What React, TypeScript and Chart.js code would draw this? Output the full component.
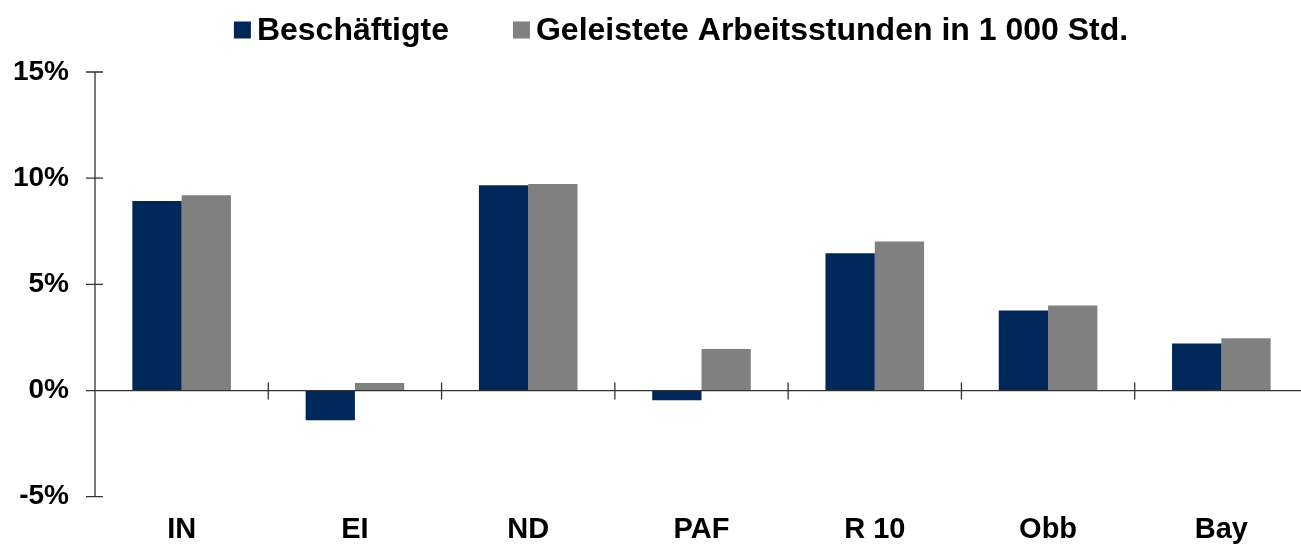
import React, { useEffect, useRef } from "react";
import { Chart, registerables } from "chart.js";

Chart.register(...registerables);

const categories = ["IN", "EI", "ND", "PAF", "R 10", "Obb", "Bay"];
const beschaeftigte = [8.93, -1.4, 9.67, -0.46, 6.46, 3.77, 2.21];
const arbeitsstunden = [9.2, 0.36, 9.72, 1.95, 7.02, 4.0, 2.46];
const seriesLabels = ["Beschäftigte", "Geleistete Arbeitsstunden in 1 000 Std."];
const seriesColors = ["#00275A", "#808080"];
const yTicks = [-5, 0, 5, 10, 15];

const FONT = '"Liberation Sans", Arial, Helvetica, sans-serif';

const axesPlugin = {
  id: "customAxes",
  afterDatasetsDraw(chart: any) {
    const { ctx, chartArea, scales } = chart;
    const xs = scales.x;
    const ys = scales.y;
    const ax = chartArea.left;
    const y0 = ys.getPixelForValue(0);
    ctx.save();
    ctx.strokeStyle = "#333333";
    ctx.lineWidth = 1.3;
    ctx.beginPath();
    ctx.moveTo(ax, ys.getPixelForValue(yTicks[yTicks.length - 1]));
    ctx.lineTo(ax, ys.getPixelForValue(yTicks[0]));
    for (const v of yTicks) {
      const py = ys.getPixelForValue(v);
      ctx.moveTo(ax - 9, py);
      ctx.lineTo(ax + 8, py);
    }
    ctx.moveTo(ax, y0);
    ctx.lineTo(chartArea.right, y0);
    for (let i = 1; i < categories.length; i++) {
      const px = (xs.getPixelForValue(i - 1) + xs.getPixelForValue(i)) / 2;
      ctx.moveTo(px, y0 - 8);
      ctx.lineTo(px, y0 + 9);
    }
    ctx.stroke();
    ctx.restore();
  },
};

const legendPlugin = {
  id: "customLegend",
  afterDraw(chart: any) {
    const { ctx } = chart;
    const ds = chart.data.datasets;
    const box = 17;
    const gap = 6;
    const spacing = 64;
    ctx.save();
    ctx.font = `bold 32px ${FONT}`;
    ctx.textBaseline = "alphabetic";
    ctx.textAlign = "left";
    const widths = ds.map((d: any) => ctx.measureText(d.label).width);
    let total = 0;
    widths.forEach((w: number, i: number) => {
      total += box + gap + w + (i < widths.length - 1 ? spacing : 0);
    });
    let x = 681 - total / 2;
    ds.forEach((d: any, i: number) => {
      ctx.fillStyle = d.backgroundColor;
      ctx.fillRect(x, 21.5, box, box);
      ctx.fillStyle = "#000000";
      ctx.fillText(d.label, x + box + gap, 40);
      x += box + gap + widths[i] + spacing;
    });
    ctx.restore();
  },
};

export default function App() {
  const ref = useRef<HTMLCanvasElement | null>(null);

  useEffect(() => {
    if (!ref.current) return;
    const chart = new Chart(ref.current, {
      type: "bar",
      data: {
        labels: categories,
        datasets: [
          {
            label: seriesLabels[0],
            data: beschaeftigte,
            backgroundColor: seriesColors[0],
            borderWidth: 0,
            categoryPercentage: 0.569,
            barPercentage: 1,
          },
          {
            label: seriesLabels[1],
            data: arbeitsstunden,
            backgroundColor: seriesColors[1],
            borderWidth: 0,
            categoryPercentage: 0.569,
            barPercentage: 1,
          },
        ],
      },
      options: {
        animation: false,
        responsive: false,
        maintainAspectRatio: false,
        devicePixelRatio: 1,
        layout: { padding: { top: 72, left: 0, right: 0, bottom: 0 } },
        plugins: {
          legend: { display: false },
          tooltip: { enabled: false },
          title: { display: false },
        },
        scales: {
          x: {
            type: "category",
            grid: { display: false, drawTicks: false },
            border: { display: false },
            ticks: {
              color: "#000000",
              font: { family: FONT, size: 29, weight: "bold" },
              padding: 16,
              maxRotation: 0,
              autoSkip: false,
            },
            afterFit(scale: any) {
              scale.height = 47.3;
            },
          },
          y: {
            min: -5,
            max: 15,
            grid: { display: false, drawTicks: false },
            border: { display: false },
            ticks: {
              stepSize: 5,
              color: "#000000",
              font: { family: FONT, size: 28, weight: "bold" },
              padding: 26,
              callback: (v: any) => `${v}%`,
            },
            afterFit(scale: any) {
              scale.width = 95;
            },
          },
        },
      },
      plugins: [axesPlugin, legendPlugin],
    });
    return () => chart.destroy();
  }, []);

  return (
    <div
      style={{
        position: "fixed",
        left: 0,
        top: 0,
        width: 1301,
        height: 544,
        overflow: "hidden",
        background: "#ffffff",
      }}
    >
      <canvas ref={ref} width={1308} height={544} style={{ display: "block" }} />
    </div>
  );
}
